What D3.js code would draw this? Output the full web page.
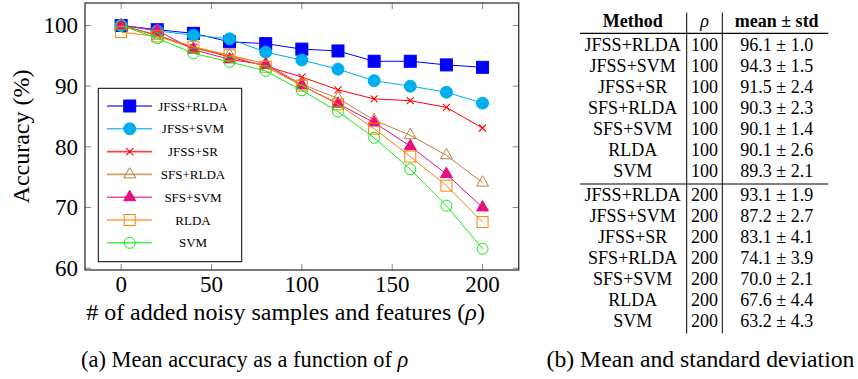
<!DOCTYPE html>
<html>
<head>
<meta charset="utf-8">
<script src="https://cdn.jsdelivr.net/npm/d3@7"></script>
<style>
  body { margin: 0; background: #fff; }
</style>
</head>
<body>
<div id="chart"></div>
<script>
// x values (rho) and accuracy series
var rho = [0, 20, 40, 60, 80, 100, 120, 140, 160, 180, 200];
var jfssRlda = [100, 99.3, 98.7, 97.3, 97.0, 96.1, 95.8, 94.1, 94.1, 93.5, 93.1];
var jfssSvm  = [100, 99.1, 98.4, 97.8, 95.6, 94.3, 92.8, 90.9, 90.0, 89.0, 87.2];
var jfssSr   = [100, 98.4, 96.4, 94.8, 93.3, 91.5, 89.4, 87.9, 87.6, 86.5, 83.1];
var sfsRlda  = [100, 98.3, 96.2, 95.1, 93.7, 90.3, 88.0, 84.4, 81.9, 78.6, 74.1];
var sfsSvm   = [100, 99.2, 96.0, 94.4, 93.5, 90.1, 87.1, 84.0, 80.1, 75.5, 70.0];
var rldaAcc  = [98.9, 98.2, 96.5, 95.1, 93.2, 90.1, 87.0, 83.0, 78.4, 73.6, 67.6];
var svmAcc   = [100, 97.9, 95.4, 94.0, 92.5, 89.3, 85.8, 81.5, 76.3, 70.3, 63.2];

var xTicks = [0, 50, 100, 150, 200];
var yTicks = [60, 70, 80, 90, 100];

// table
var tableMethods = ["JFSS+RLDA", "JFSS+SVM", "JFSS+SR", "SFS+RLDA", "SFS+SVM", "RLDA", "SVM"];
var tableRho = [100, 200];
var tableMean = [[96.1, 94.3, 91.5, 90.3, 90.1, 90.1, 89.3],
                 [93.1, 87.2, 83.1, 74.1, 70.0, 67.6, 63.2]];
var tableStd = [[1.0, 1.5, 2.4, 2.3, 1.4, 2.6, 2.1],
                [1.9, 2.7, 4.1, 3.9, 2.1, 4.4, 4.3]];

var series = [
    { name: "JFSS+RLDA", values: jfssRlda, color: "#0000ff", shape: "square", fill: true },
    { name: "JFSS+SVM",  values: jfssSvm,  color: "#00aeef", shape: "circle", fill: true },
    { name: "JFSS+SR",   values: jfssSr,   color: "#ff0000", shape: "times",  fill: false },
    { name: "SFS+RLDA",  values: sfsRlda,  color: "#bf8040", shape: "triangle", fill: false },
    { name: "SFS+SVM",   values: sfsSvm,   color: "#e6107f", shape: "triangle", fill: true },
    { name: "RLDA",      values: rldaAcc,  color: "#ff8000", shape: "square", fill: false },
    { name: "SVM",       values: svmAcc,   color: "#10ee10", shape: "circle", fill: false }
];

var serif = '"Liberation Serif", serif';

var svg = d3.select("#chart").append("svg")
    .attr("width", 858)
    .attr("height", 379);

// every text goes through here so the font is set on the element itself
function addText(sel, size) {
    return sel.append("text")
        .attr("font-family", serif)
        .attr("font-size", size)
        .attr("fill", "#000");
}

var plotL = 85, plotR = 518.7, plotT = 3, plotB = 270;

var x = d3.scaleLinear().domain([-20, 220]).range([plotL, plotR]);
var y = d3.scaleLinear().domain([59.7, 103.7]).range([plotB, plotT]);

// ticks (inward, mirrored)
var tickG = svg.append("g").attr("stroke", "#8a8a8a").attr("stroke-width", 1);
xTicks.forEach(function(t) {
    tickG.append("line").attr("x1", x(t)).attr("x2", x(t)).attr("y1", plotB).attr("y2", plotB - 6);
    tickG.append("line").attr("x1", x(t)).attr("x2", x(t)).attr("y1", plotT).attr("y2", plotT + 6);
});
yTicks.forEach(function(t) {
    tickG.append("line").attr("x1", plotL).attr("x2", plotL + 6).attr("y1", y(t)).attr("y2", y(t));
    tickG.append("line").attr("x1", plotR).attr("x2", plotR - 6).attr("y1", y(t)).attr("y2", y(t));
});

// tick labels
xTicks.forEach(function(t) {
    addText(svg, 23).attr("x", x(t)).attr("y", 292)
        .attr("text-anchor", "middle").text(t);
});
yTicks.forEach(function(t) {
    addText(svg, 23).attr("x", 78).attr("y", y(t) + 8)
        .attr("text-anchor", "end").text(t);
});

// lines + markers
var line = d3.line()
    .x(function(d, i) { return x(rho[i]); })
    .y(function(d) { return y(d); });

function marker(sel, s, cx, cy) {
    var g = sel.append("g").attr("transform", "translate(" + cx + "," + cy + ")");
    var fill = s.fill ? s.color : "none";
    if (s.shape == "square") {
        var h = s.fill ? 6 : 5.5;
        g.append("rect").attr("x", -h).attr("y", -h).attr("width", 2 * h).attr("height", 2 * h)
            .attr("fill", fill).attr("stroke", s.color).attr("stroke-width", 1);
    } else if (s.shape == "circle") {
        g.append("circle").attr("r", s.fill ? 6 : 5.5)
            .attr("fill", fill).attr("stroke", s.color).attr("stroke-width", 1);
    } else if (s.shape == "triangle") {
        g.append("path").attr("d", d3.symbol().type(d3.symbolTriangle).size(62)())
            .attr("fill", fill).attr("stroke", s.color).attr("stroke-width", 1);
    } else {
        var r = 3.5;
        g.append("path").attr("d", "M" + (-r) + "," + (-r) + "L" + r + "," + r + "M" + (-r) + "," + r + "L" + r + "," + (-r))
            .attr("stroke", s.color).attr("stroke-width", 1.1).attr("fill", "none");
    }
}

series.forEach(function(s) {
    var g = svg.append("g");
    g.append("path")
        .attr("d", line(s.values))
        .attr("fill", "none")
        .attr("stroke", s.color)
        .attr("stroke-width", 1);
    s.values.forEach(function(v, i) {
        marker(g, s, x(rho[i]), y(v));
    });
});

// frame
svg.append("rect")
    .attr("x", plotL).attr("y", plotT)
    .attr("width", plotR - plotL).attr("height", plotB - plotT)
    .attr("fill", "none").attr("stroke", "#333").attr("stroke-width", 1.3);

// legend
var lg = svg.append("g");
lg.append("rect")
    .attr("x", 98.3).attr("y", 88.3).attr("width", 143.4).attr("height", 173.4)
    .attr("fill", "#fff").attr("stroke", "#000").attr("stroke-width", 1);

series.forEach(function(s, i) {
    var ly = 106 + i * 22.8;
    lg.append("line").attr("x1", 107).attr("x2", 152).attr("y1", ly).attr("y2", ly)
        .attr("stroke", s.color).attr("stroke-width", 1.6).attr("opacity", 0.75);
    marker(lg, s, 129.7, ly);
    addText(lg, 13).attr("x", 193).attr("y", ly + 4.5)
        .attr("text-anchor", "middle")
        .text(s.name);
});

// axis labels
addText(svg, 24)
    .attr("transform", "translate(29,136.5) rotate(-90)")
    .attr("text-anchor", "middle")
    .text("Accuracy (%)");

var xl = addText(svg, 24)
    .attr("x", 285.5).attr("y", 320)
    .attr("text-anchor", "middle");
xl.append("tspan").text("# of added noisy samples and features (");
xl.append("tspan").attr("font-style", "italic").text("ρ");
xl.append("tspan").text(")");

// captions
var ca = addText(svg, 22.4)
    .attr("x", 244.7).attr("y", 367)
    .attr("text-anchor", "middle");
ca.append("tspan").text("(a) Mean accuracy as a function of ");
ca.append("tspan").attr("font-style", "italic").text("ρ");

addText(svg, 23.7)
    .attr("x", 700.5).attr("y", 367)
    .attr("text-anchor", "middle")
    .text("(b) Mean and standard deviation");

// table
var colMethod = 632.7, colRho = 704.5, colMean = 776.7;
var tg = svg.append("g");

addText(tg, 18).attr("x", colMethod).attr("y", 26.7).attr("text-anchor", "middle")
    .attr("font-weight", "bold").text("Method");
addText(tg, 18).attr("x", colRho).attr("y", 26.7).attr("text-anchor", "middle")
    .attr("font-style", "italic").text("ρ");
addText(tg, 18).attr("x", colMean).attr("y", 26.7).attr("text-anchor", "middle")
    .attr("font-weight", "bold").text("mean ± std");

tg.append("line").attr("x1", 580).attr("x2", 828.3).attr("y1", 33.3).attr("y2", 33.3)
    .attr("stroke", "#000").attr("stroke-width", 1.2);
tg.append("line").attr("x1", 580).attr("x2", 828.3).attr("y1", 184).attr("y2", 184)
    .attr("stroke", "#000").attr("stroke-width", 1.2);
[686.7, 722.3].forEach(function(vx) {
    tg.append("line").attr("x1", vx).attr("x2", vx).attr("y1", 12.7).attr("y2", 333.3)
        .attr("stroke", "#000").attr("stroke-width", 1);
});

var blockStart = [50.7, 200.5];
tableRho.forEach(function(r, b) {
    tableMethods.forEach(function(m, i) {
        var by = blockStart[b] + i * 21;
        addText(tg, 18).attr("x", colMethod).attr("y", by).attr("text-anchor", "middle").text(m);
        addText(tg, 18).attr("x", colRho).attr("y", by).attr("text-anchor", "middle").text(r);
        addText(tg, 18).attr("x", colMean).attr("y", by).attr("text-anchor", "middle")
            .text(tableMean[b][i].toFixed(1) + " ± " + tableStd[b][i].toFixed(1));
    });
});
</script>
</body>
</html>
